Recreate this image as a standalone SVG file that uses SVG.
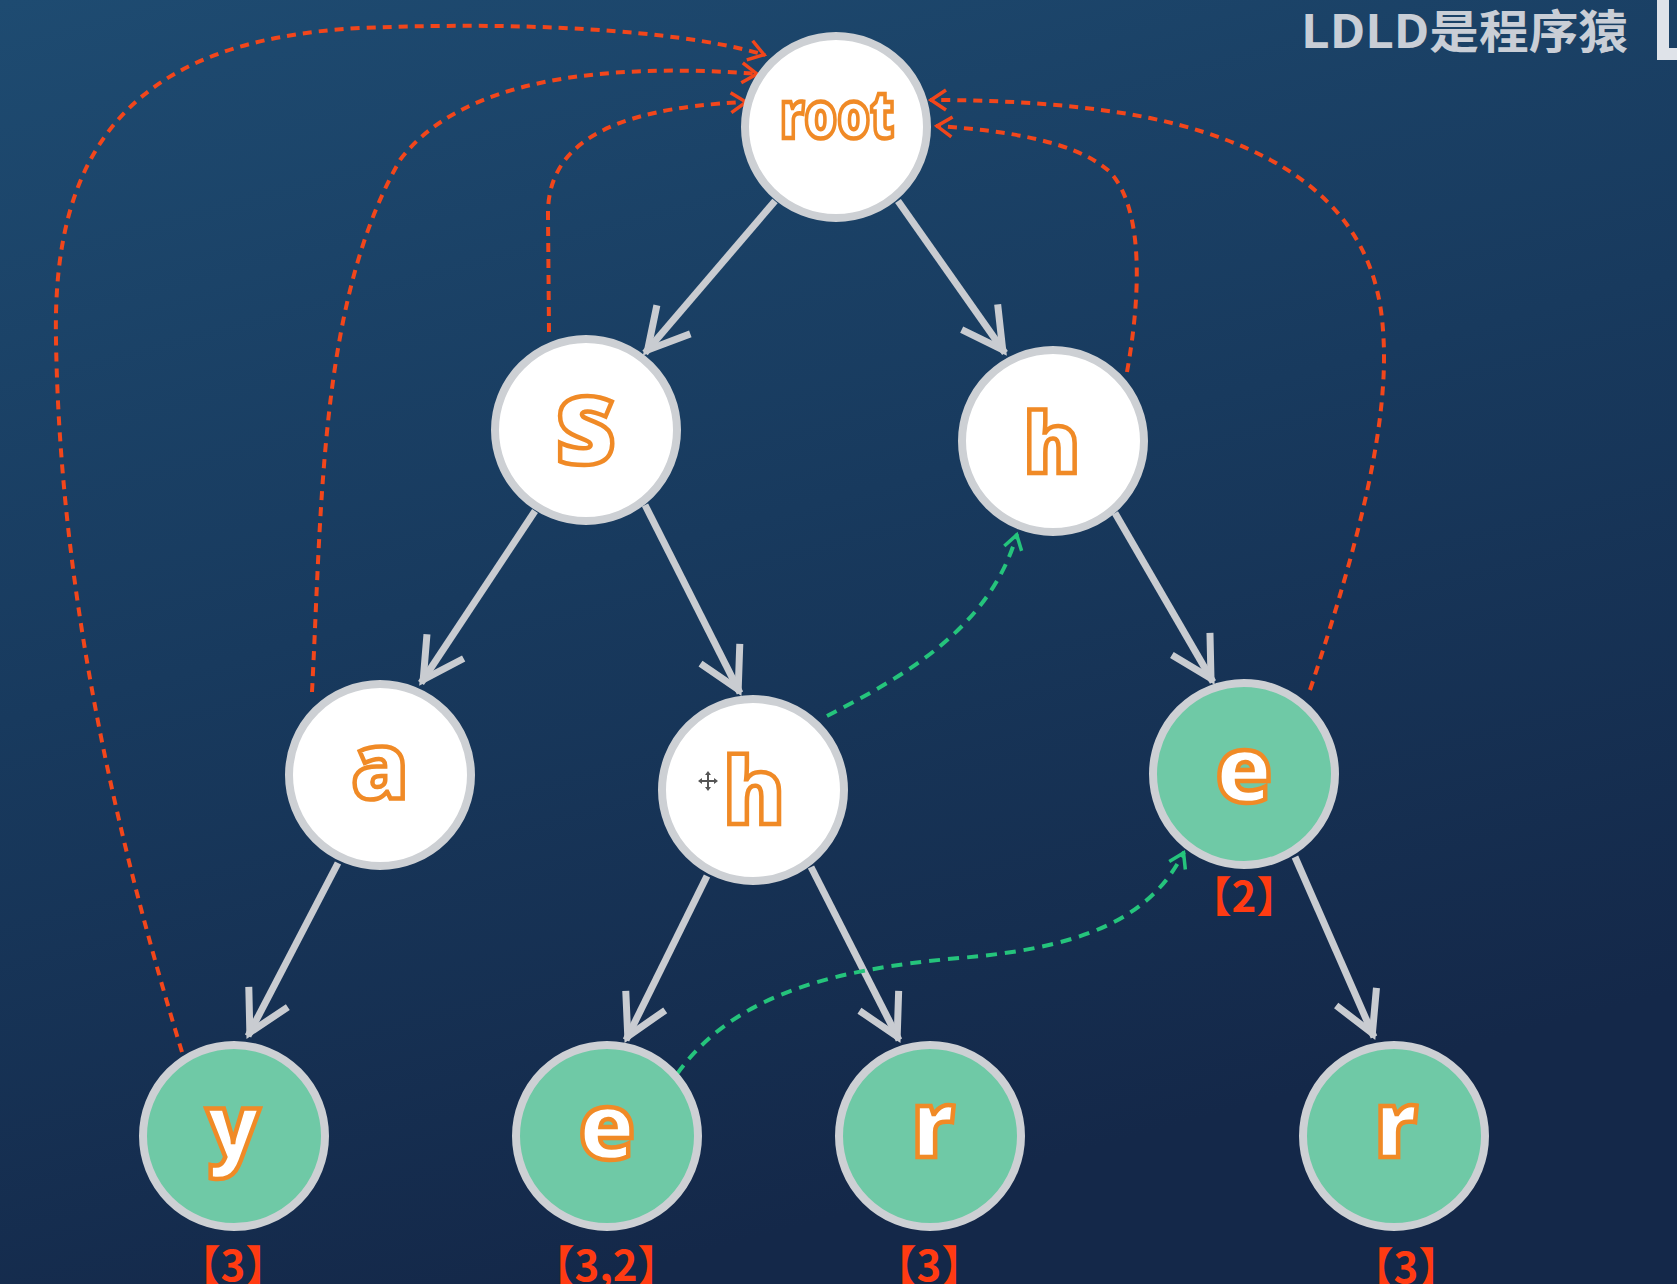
<svg xmlns="http://www.w3.org/2000/svg" width="1677" height="1284" viewBox="0 0 1677 1284">
<defs>
<linearGradient id="bg" x1="0" y1="0" x2="0.35" y2="1">
<stop offset="0" stop-color="#1e4b71"/>
<stop offset="0.5" stop-color="#183a5e"/>
<stop offset="1" stop-color="#142849"/>
</linearGradient>
<marker id="ag" markerUnits="userSpaceOnUse" orient="auto" overflow="visible" markerWidth="1" markerHeight="1" refX="0" refY="0">
<path d="M-44,-22 L-4,0 L-44,22" fill="none" stroke="#c9ccd1" stroke-width="7"/>
</marker>
<marker id="ar" markerUnits="userSpaceOnUse" orient="auto" overflow="visible" markerWidth="1" markerHeight="1" refX="0" refY="0">
<path d="M-16,-10 L-1,0 L-16,10" fill="none" stroke="#f2461b" stroke-width="3.5"/>
</marker>
<marker id="agr" markerUnits="userSpaceOnUse" orient="auto" overflow="visible" markerWidth="1" markerHeight="1" refX="0" refY="0">
<path d="M-15,-9 L-1,0 L-15,9" fill="none" stroke="#25c47c" stroke-width="3.5"/>
</marker>
</defs>
<style>
.edge{fill:none;stroke:#c9ccd1;stroke-width:7;marker-end:url(#ag)}
.fail{fill:none;stroke:#f2461b;stroke-width:4;stroke-dasharray:9 7;marker-end:url(#ar)}
.link{fill:none;stroke:#25c47c;stroke-width:4;stroke-dasharray:11 8;marker-end:url(#agr)}
.nw{fill:#ffffff;stroke:#cdd0d4;stroke-width:8}
.ng{fill:#6fc9a6;stroke:#cdd0d4;stroke-width:8}
.lt{font-family:"Open Sans","DejaVu Sans",sans-serif;font-weight:800;fill:#ffffff;stroke:#f08a26;stroke-width:4.5;text-anchor:middle}
.lb{font-family:"Noto Sans CJK SC","Noto Sans",sans-serif;font-weight:700;font-size:42px;fill:#ff3b12;text-anchor:middle}
</style>
<rect x="0" y="0" width="1677" height="1284" fill="url(#bg)"/>
<g id="watermark">
<text x="1301" y="48" font-family="Noto Sans CJK SC, Noto Sans, sans-serif" font-weight="700" font-size="46" fill="#c9ced6" textLength="327" lengthAdjust="spacingAndGlyphs">LDLD是程序猿</text>
<path d="M1657,0 H1669 V48 H1677 V60 H1657 Z" fill="#dfe3e9"/>
</g>
<g id="connectors">
<path class="edge" d="M775,201 L645,353"/>
<path class="edge" d="M898,201 L1005,353"/>
<path class="edge" d="M535,511 L421,683"/>
<path class="edge" d="M645,505 L740,693"/>
<path class="edge" d="M338,863 L248,1036"/>
<path class="edge" d="M707,876 L626,1040"/>
<path class="edge" d="M811,867 L899,1040"/>
<path class="edge" d="M1115,513 L1213,682"/>
<path class="edge" d="M1295,857 L1374,1037"/>
<path class="fail" d="M182,1052 C120,850 60,600 56,340 C52,150 130,40 360,28 C560,20 700,35 765,55"/>
<path class="fail" d="M312,692 C322,500 320,300 400,160 C460,80 600,62 758,74"/>
<path class="fail" d="M549,332 L548,215 C547,150 600,108 747,102"/>
<path class="fail" d="M1127,372 C1140,300 1145,210 1110,172 C1075,140 1000,130 936,126"/>
<path class="fail" d="M1310,690 C1360,540 1390,420 1383,330 C1376,220 1300,150 1150,118 C1080,104 1000,100 930,100"/>
<path class="link" d="M827,716 C900,678 990,630 1017,534"/>
<path class="link" d="M677,1074 C730,1000 820,970 960,958 C1080,948 1150,920 1184,852"/>
</g>
<g id="node-root"><circle class="nw" cx="836" cy="127" r="91"/><text class="lt" x="837" y="138" font-size="66" textLength="114" lengthAdjust="spacingAndGlyphs">root</text></g>
<g id="node-s"><circle class="nw" cx="586" cy="430" r="91"/><text class="lt" x="586" y="464" font-size="120">s</text></g>
<g id="node-h1"><circle class="nw" cx="1053" cy="441" r="91"/><text class="lt" x="1052" y="473" font-size="84">h</text></g>
<g id="node-a"><circle class="nw" cx="380" cy="775" r="91"/><text class="lt" x="380" y="799" font-size="92">a</text></g>
<g id="node-h2"><circle class="nw" cx="753" cy="790" r="91"/><text class="lt" x="754" y="824" font-size="92">h</text>
<g id="cursor" stroke="#555" stroke-width="2" fill="#555"><path d="M700,781 H716 M708,773 V789" fill="none"/><path d="M698,781 l4,-3 v6 z M718,781 l-4,-3 v6 z M708,771 l-3,4 h6 z M708,791 l-3,-4 h6 z" stroke="none"/></g></g>
<g id="node-e1"><circle class="ng" cx="1244" cy="774" r="91"/><text class="lt" x="1244" y="802" font-size="92">e</text><text class="lb" x="1244" y="912">【2】</text></g>
<g id="node-y"><circle class="ng" cx="234" cy="1136" r="91"/><text class="lt" x="233" y="1158" font-size="88">y</text><text class="lb" x="233" y="1281">【3】</text></g>
<g id="node-e2"><circle class="ng" cx="607" cy="1136" r="91"/><text class="lt" x="607" y="1159" font-size="92">e</text><text class="lb" x="606" y="1281">【3,2】</text></g>
<g id="node-r1"><circle class="ng" cx="930" cy="1136" r="91"/><text class="lt" x="933" y="1157" font-size="92">r</text><text class="lb" x="929" y="1281">【3】</text></g>
<g id="node-r2"><circle class="ng" cx="1394" cy="1136" r="91"/><text class="lt" x="1396" y="1157" font-size="92">r</text><text class="lb" x="1406" y="1283">【3】</text></g>
</svg>
